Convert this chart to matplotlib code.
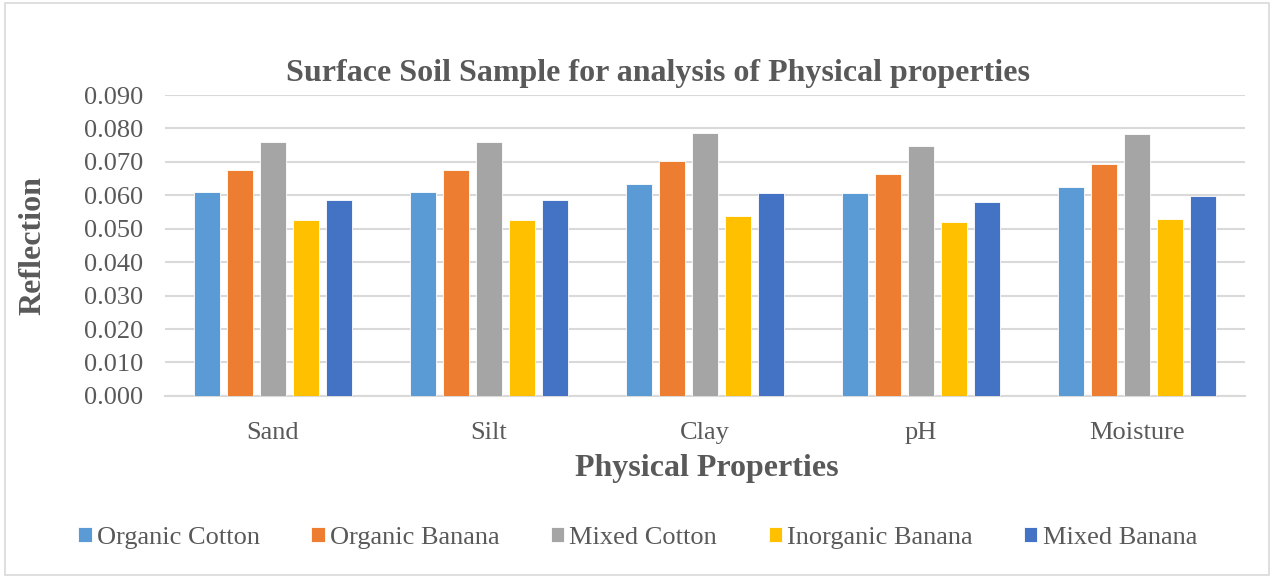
import matplotlib
matplotlib.use('Agg')
import matplotlib.pyplot as plt
from matplotlib.patches import Rectangle
import numpy as np

categories = ['Sand', 'Silt', 'Clay', 'pH', 'Moisture']
organic_cotton = [0.0610, 0.0610, 0.0635, 0.0606, 0.0624]
organic_banana = [0.0675, 0.0675, 0.0704, 0.0664, 0.0694]
mixed_cotton = [0.0758, 0.0758, 0.0787, 0.0747, 0.0784]
inorganic_banana = [0.0527, 0.0525, 0.0539, 0.0519, 0.0530]
mixed_banana = [0.0587, 0.0586, 0.0608, 0.0579, 0.0597]

series = [
    ('Organic Cotton', organic_cotton, '#5B9BD5'),
    ('Organic Banana', organic_banana, '#ED7D31'),
    ('Mixed Cotton', mixed_cotton, '#A5A5A5'),
    ('Inorganic Banana', inorganic_banana, '#FFC000'),
    ('Mixed Banana', mixed_banana, '#4472C4'),
]

txt = '#595959'
plt.rcParams['font.family'] = ['Liberation Serif', 'DejaVu Serif']

fig = plt.figure(figsize=(12.73, 5.78), dpi=100)
ax = fig.add_axes([0.1296, 0.315, 0.8484, 0.5206])

x = np.arange(len(categories))
step = 0.153
width = 0.123
for i, (name, vals, col) in enumerate(series):
    ax.bar(x + (i - 2) * step, vals, width, color=col, label=name,
           edgecolor='white', linewidth=0.6, zorder=3)

ax.set_xlim(-0.5, len(categories) - 0.5)
ax.set_ylim(0, 0.090)
ax.set_yticks(np.arange(0, 0.0901, 0.010))
ax.set_yticklabels([f'{v:.3f}' for v in np.arange(0, 0.0901, 0.010)])
ax.set_xticks(x)
ax.set_xticklabels(categories)
ax.tick_params(axis='both', length=0, labelsize=19, colors=txt)
ax.tick_params(axis='x', pad=19)
ax.tick_params(axis='y', pad=16)
ax.grid(axis='y', color='#d9d9d9', linewidth=1.5, zorder=0)
for s in ['top', 'right', 'left']:
    ax.spines[s].set_visible(False)
ax.spines['bottom'].set_color('#d9d9d9')
ax.spines['bottom'].set_linewidth(1.5)

fig.text(0.517, 0.872, 'Surface Soil Sample for analysis of Physical properties',
         fontsize=23, fontweight='bold', color=txt, ha='center', va='center')
fig.text(0.026, 0.576, 'Reflection', fontsize=23, fontweight='bold', color=txt,
         rotation=90, ha='center', va='center')
fig.text(0.555, 0.19, 'Physical Properties', fontsize=23, fontweight='bold',
         color=txt, ha='center', va='center')

fig.legend(loc='center', bbox_to_anchor=(0.501, 0.07), ncol=5, frameon=False,
           fontsize=19, labelcolor=txt, handlelength=0.5, handleheight=0.5,
           handletextpad=0.2, columnspacing=1.95)

fig.patches.append(Rectangle((0.004, 0.006), 0.993, 0.988, transform=fig.transFigure,
                             fill=False, edgecolor='#d9d9d9', linewidth=1.2))

fig.savefig('out.png', dpi=100)
